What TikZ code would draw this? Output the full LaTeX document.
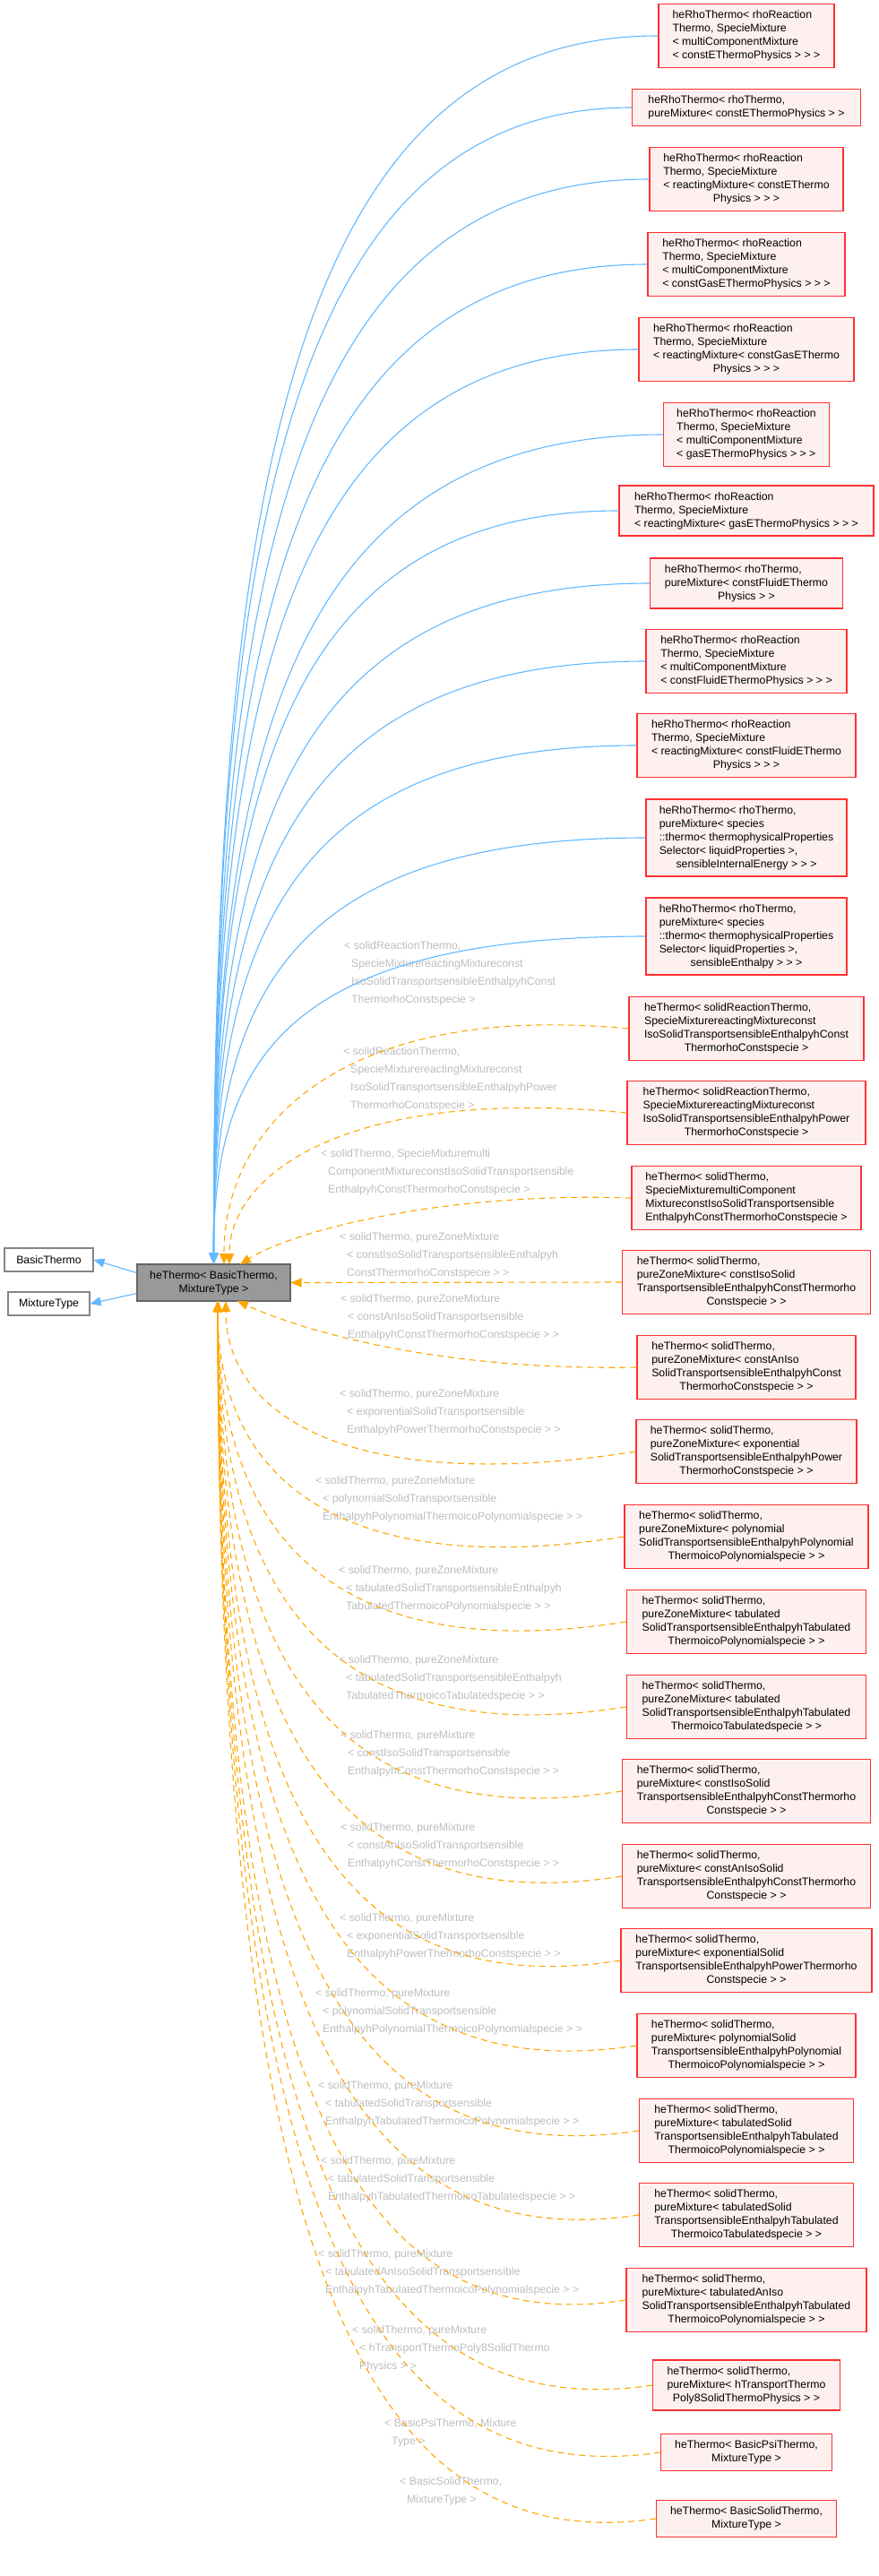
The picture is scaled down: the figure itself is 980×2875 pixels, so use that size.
\documentclass[tikz,border=0pt]{standalone}
\usepackage{fontspec}
\setmainfont{Liberation Sans}
\usetikzlibrary{arrows.meta,calc}
\definecolor{bfill}{HTML}{FFF0F0}
\definecolor{bdraw}{HTML}{FF3030}
\definecolor{mfill}{HTML}{999999}
\definecolor{mdraw}{HTML}{666666}
\definecolor{eblue}{HTML}{63B8FF}
\definecolor{eorange}{HTML}{FFA500}
\definecolor{lgray}{HTML}{BDBDBD}
\newcommand\cl[1]{\multicolumn{1}{@{}c@{}}{#1}}
\newcommand\ind{\hspace*{8pt}}
\newcommand\tb[1]{\begin{tabular}{@{}l@{}}#1\end{tabular}}
\newcommand\bedge[1]{\draw[bl] let \p1=(#1.west), \p2=(main.north) in (\p1) .. controls ({0.15*\x1+0.85*\x2},\y1) and (\x2,{0.6*\y1+0.4*\y2}) .. (\p2);}
\newcommand\oedgeT[2]{\draw[orr] let \p1=(#1.west), \p2=(#2) in (\p1) .. controls ({0.3*\x1+0.7*\x2},{\y1+30pt}) and (\x2,{0.6*\y1+0.4*\y2}) .. (\p2);}
\newcommand\oedgeB[2]{\draw[orr] let \p1=(#1.west), \p2=(#2) in (\p1) .. controls ({0.3*\x1+0.7*\x2},{\y1-50pt}) and (\x2,{0.75*\y1+0.25*\y2}) .. (\p2);}
\begin{document}
\begin{tikzpicture}[x=1pt,y=-1pt,
  every node/.style={font=\fontsize{12.3}{15}\selectfont, inner sep=0pt},
  box/.style={draw=bdraw, fill=bfill, line width=1.3pt},
  plain/.style={draw=mdraw!80, fill=white, line width=1.1pt},
  lab/.style={anchor=west, text=lgray, font=\fontsize{12.3}{20}\selectfont},
  bl/.style={draw=eblue, line width=1.1pt, -{Triangle[length=12pt,width=10pt]}},
  orr/.style={draw=eorange, line width=1.1pt, dash pattern=on 7pt off 5pt, -{Triangle[length=12pt,width=10pt]}}]
\useasboundingbox (0,0) rectangle (980,2875);
% main and parents
\node[draw=mdraw, fill=mfill, line width=1.1pt, minimum width=171, minimum height=41] (main) at (238.5,1431.5) {\tb{\cl{heThermo< BasicThermo,}\\\cl{MixtureType >}}};
\node[plain, minimum width=99, minimum height=26] (bt) at (54.5,1406) {BasicThermo};
\node[plain, minimum width=91, minimum height=26] (mt) at (54.5,1455) {MixtureType};
\draw[bl] ($(main.west)+(0,-11)$) -- (bt.east);
\draw[bl] ($(main.west)+(0,12)$) -- (mt.east);
% blue children
\node[box, minimum width=196, minimum height=71] (b1) at (833,40) {\tb{heRhoThermo< rhoReaction\\Thermo, SpecieMixture\\< multiComponentMixture\\< constEThermoPhysics > > >}};
\node[box, minimum width=255, minimum height=41] (b2) at (833,120) {\tb{heRhoThermo< rhoThermo,\\ pureMixture< constEThermoPhysics > >}};
\node[box, minimum width=216, minimum height=71] (b3) at (833,200) {\tb{heRhoThermo< rhoReaction\\Thermo, SpecieMixture\\< reactingMixture< constEThermo\\\cl{Physics > > >}}};
\node[box, minimum width=220, minimum height=71] (b4) at (833,295) {\tb{heRhoThermo< rhoReaction\\Thermo, SpecieMixture\\< multiComponentMixture\\< constGasEThermoPhysics > > >}};
\node[box, minimum width=240, minimum height=71] (b5) at (833,390) {\tb{heRhoThermo< rhoReaction\\Thermo, SpecieMixture\\< reactingMixture< constGasEThermo\\\cl{Physics > > >}}};
\node[box, minimum width=185, minimum height=71] (b6) at (833,485) {\tb{heRhoThermo< rhoReaction\\Thermo, SpecieMixture\\< multiComponentMixture\\< gasEThermoPhysics > > >}};
\node[box, minimum width=284, minimum height=56] (b7) at (833,570) {\tb{heRhoThermo< rhoReaction\\Thermo, SpecieMixture\\< reactingMixture< gasEThermoPhysics > > >}};
\node[box, minimum width=215, minimum height=56] (b8) at (833,651) {\tb{heRhoThermo< rhoThermo,\\ pureMixture< constFluidEThermo\\\cl{Physics > >}}};
\node[box, minimum width=224, minimum height=71] (b9) at (833,738) {\tb{heRhoThermo< rhoReaction\\Thermo, SpecieMixture\\< multiComponentMixture\\< constFluidEThermoPhysics > > >}};
\node[box, minimum width=244, minimum height=71] (b10) at (833,832) {\tb{heRhoThermo< rhoReaction\\Thermo, SpecieMixture\\< reactingMixture< constFluidEThermo\\\cl{Physics > > >}}};
\node[box, minimum width=224, minimum height=86] (b11) at (833,935) {\tb{heRhoThermo< rhoThermo,\\ pureMixture< species\\::thermo< thermophysicalProperties\\Selector< liquidProperties >,\\\cl{sensibleInternalEnergy > > >}}};
\node[box, minimum width=224, minimum height=86] (b12) at (833,1045) {\tb{heRhoThermo< rhoThermo,\\ pureMixture< species\\::thermo< thermophysicalProperties\\Selector< liquidProperties >,\\\cl{sensibleEnthalpy > > >}}};
% orange children
\node[box, minimum width=262, minimum height=71] (b13) at (833,1148) {\tb{heThermo< solidReactionThermo,\\ SpecieMixturereactingMixtureconst\\IsoSolidTransportsensibleEnthalpyhConst\\\cl{ThermorhoConstspecie >}}};
\node[box, minimum width=266, minimum height=71] (b14) at (833,1242) {\tb{heThermo< solidReactionThermo,\\ SpecieMixturereactingMixtureconst\\IsoSolidTransportsensibleEnthalpyhPower\\\cl{ThermorhoConstspecie >}}};
\node[box, minimum width=256, minimum height=71] (b15) at (833,1337) {\tb{heThermo< solidThermo,\\ SpecieMixturemultiComponent\\MixtureconstIsoSolidTransportsensible\\EnthalpyhConstThermorhoConstspecie >}};
\node[box, minimum width=277, minimum height=71] (b16) at (833,1431) {\tb{heThermo< solidThermo,\\ pureZoneMixture< constIsoSolid\\TransportsensibleEnthalpyhConstThermorho\\\cl{Constspecie > >}}};
\node[box, minimum width=244, minimum height=71] (b17) at (833,1526) {\tb{heThermo< solidThermo,\\ pureZoneMixture< constAnIso\\SolidTransportsensibleEnthalpyhConst\\\cl{ThermorhoConstspecie > >}}};
\node[box, minimum width=246, minimum height=71] (b18) at (833,1620) {\tb{heThermo< solidThermo,\\ pureZoneMixture< exponential\\SolidTransportsensibleEnthalpyhPower\\\cl{ThermorhoConstspecie > >}}};
\node[box, minimum width=272, minimum height=71] (b19) at (833,1715) {\tb{heThermo< solidThermo,\\ pureZoneMixture< polynomial\\SolidTransportsensibleEnthalpyhPolynomial\\\cl{ThermoicoPolynomialspecie > >}}};
\node[box, minimum width=267, minimum height=71] (b20) at (833,1810) {\tb{heThermo< solidThermo,\\ pureZoneMixture< tabulated\\SolidTransportsensibleEnthalpyhTabulated\\\cl{ThermoicoPolynomialspecie > >}}};
\node[box, minimum width=267, minimum height=71] (b21) at (833,1905) {\tb{heThermo< solidThermo,\\ pureZoneMixture< tabulated\\SolidTransportsensibleEnthalpyhTabulated\\\cl{ThermoicoTabulatedspecie > >}}};
\node[box, minimum width=277, minimum height=71] (b22) at (833,1999) {\tb{heThermo< solidThermo,\\ pureMixture< constIsoSolid\\TransportsensibleEnthalpyhConstThermorho\\\cl{Constspecie > >}}};
\node[box, minimum width=277, minimum height=71] (b23) at (833,2094) {\tb{heThermo< solidThermo,\\ pureMixture< constAnIsoSolid\\TransportsensibleEnthalpyhConstThermorho\\\cl{Constspecie > >}}};
\node[box, minimum width=280, minimum height=71] (b24) at (833,2188) {\tb{heThermo< solidThermo,\\ pureMixture< exponentialSolid\\TransportsensibleEnthalpyhPowerThermorho\\\cl{Constspecie > >}}};
\node[box, minimum width=244, minimum height=71] (b25) at (833,2283) {\tb{heThermo< solidThermo,\\ pureMixture< polynomialSolid\\TransportsensibleEnthalpyhPolynomial\\\cl{ThermoicoPolynomialspecie > >}}};
\node[box, minimum width=239, minimum height=71] (b26) at (833,2378) {\tb{heThermo< solidThermo,\\ pureMixture< tabulatedSolid\\TransportsensibleEnthalpyhTabulated\\\cl{ThermoicoPolynomialspecie > >}}};
\node[box, minimum width=239, minimum height=71] (b27) at (833,2472) {\tb{heThermo< solidThermo,\\ pureMixture< tabulatedSolid\\TransportsensibleEnthalpyhTabulated\\\cl{ThermoicoTabulatedspecie > >}}};
\node[box, minimum width=268, minimum height=71] (b28) at (833,2567) {\tb{heThermo< solidThermo,\\ pureMixture< tabulatedAnIso\\SolidTransportsensibleEnthalpyhTabulated\\\cl{ThermoicoPolynomialspecie > >}}};
\node[box, minimum width=209, minimum height=56] (b29) at (833,2662) {\tb{heThermo< solidThermo,\\ pureMixture< hTransportThermo\\\cl{Poly8SolidThermoPhysics > >}}};
\node[box, minimum width=191, minimum height=41] (b30) at (833,2737) {\tb{\cl{heThermo< BasicPsiThermo,}\\\cl{MixtureType >}}};
\node[box, minimum width=201, minimum height=41] (b31) at (833,2811) {\tb{\cl{heThermo< BasicSolidThermo,}\\\cl{MixtureType >}}};
% labels
\node[lab] (l13) at (384,1085) {\tb{< solidReactionThermo,\\\ind SpecieMixturereactingMixtureconst\\\ind IsoSolidTransportsensibleEnthalpyhConst\\\ind ThermorhoConstspecie >}};
\node[lab] (l14) at (383,1203) {\tb{< solidReactionThermo,\\\ind SpecieMixturereactingMixtureconst\\\ind IsoSolidTransportsensibleEnthalpyhPower\\\ind ThermorhoConstspecie >}};
\node[lab] (l15) at (358,1307) {\tb{< solidThermo, SpecieMixturemulti\\\ind ComponentMixtureconstIsoSolidTransportsensible\\\ind EnthalpyhConstThermorhoConstspecie >}};
\node[lab] (l16) at (379,1400) {\tb{< solidThermo, pureZoneMixture\\\ind < constIsoSolidTransportsensibleEnthalpyh\\\ind ConstThermorhoConstspecie > >}};
\node[lab] (l17) at (380,1469) {\tb{< solidThermo, pureZoneMixture\\\ind < constAnIsoSolidTransportsensible\\\ind EnthalpyhConstThermorhoConstspecie > >}};
\node[lab] (l18) at (379,1575) {\tb{< solidThermo, pureZoneMixture\\\ind < exponentialSolidTransportsensible\\\ind EnthalpyhPowerThermorhoConstspecie > >}};
\node[lab] (l19) at (352,1672) {\tb{< solidThermo, pureZoneMixture\\\ind < polynomialSolidTransportsensible\\\ind EnthalpyhPolynomialThermoicoPolynomialspecie > >}};
\node[lab] (l20) at (378,1772) {\tb{< solidThermo, pureZoneMixture\\\ind < tabulatedSolidTransportsensibleEnthalpyh\\\ind TabulatedThermoicoPolynomialspecie > >}};
\node[lab] (l21) at (378,1872) {\tb{< solidThermo, pureZoneMixture\\\ind < tabulatedSolidTransportsensibleEnthalpyh\\\ind TabulatedThermoicoTabulatedspecie > >}};
\node[lab] (l22) at (380,1956) {\tb{< solidThermo, pureMixture\\\ind < constIsoSolidTransportsensible\\\ind EnthalpyhConstThermorhoConstspecie > >}};
\node[lab] (l23) at (380,2059) {\tb{< solidThermo, pureMixture\\\ind < constAnIsoSolidTransportsensible\\\ind EnthalpyhConstThermorhoConstspecie > >}};
\node[lab] (l24) at (379,2160) {\tb{< solidThermo, pureMixture\\\ind < exponentialSolidTransportsensible\\\ind EnthalpyhPowerThermorhoConstspecie > >}};
\node[lab] (l25) at (352,2244) {\tb{< solidThermo, pureMixture\\\ind < polynomialSolidTransportsensible\\\ind EnthalpyhPolynomialThermoicoPolynomialspecie > >}};
\node[lab] (l26) at (355,2347) {\tb{< solidThermo, pureMixture\\\ind < tabulatedSolidTransportsensible\\\ind EnthalpyhTabulatedThermoicoPolynomialspecie > >}};
\node[lab] (l27) at (358,2431) {\tb{< solidThermo, pureMixture\\\ind < tabulatedSolidTransportsensible\\\ind EnthalpyhTabulatedThermoicoTabulatedspecie > >}};
\node[lab] (l28) at (355,2535) {\tb{< solidThermo, pureMixture\\\ind < tabulatedAnIsoSolidTransportsensible\\\ind EnthalpyhTabulatedThermoicoPolynomialspecie > >}};
\node[lab] (l29) at (393,2620) {\tb{< solidThermo, pureMixture\\\ind < hTransportThermoPoly8SolidThermo\\\ind Physics > >}};
\node[lab] (l30) at (429,2714) {\tb{< BasicPsiThermo, Mixture\\\ind Type >}};
\node[lab] (l31) at (446,2779) {\tb{< BasicSolidThermo,\\\ind MixtureType >}};
% target points
\coordinate (t13) at (250,1411);
\coordinate (t14) at (256,1411);
\coordinate (t15) at (268,1411);
\coordinate (t17) at (265,1452);
\coordinate (t18) at (252,1452);
\coordinate (tb) at (243,1452);
\coordinate (c15a) at (500,1330);
\coordinate (c15b) at (330,1372);
\coordinate (c17a) at (480,1530);
\coordinate (c17b) at (330,1482);
% blue edges
\foreach \bx in {b1,b2,b3,b4,b5,b6,b7,b8,b9,b10,b11,b12} {\bedge{\bx}}
% orange edges
\oedgeT{b13}{t13}
\oedgeT{b14}{t14}
\draw[orr] (b15.west) .. controls (c15a) and (c15b) .. (t15);
\draw[orr] (b16.west) -- (main.east);
\draw[orr] (b17.west) .. controls (c17a) and (c17b) .. (t17);
\oedgeB{b18}{t18}
\foreach \bx in {b19,b20,b21,b22,b23,b24,b25,b26,b27,b28,b29,b30,b31} {\oedgeB{\bx}{tb}}
\end{tikzpicture}
\end{document}
